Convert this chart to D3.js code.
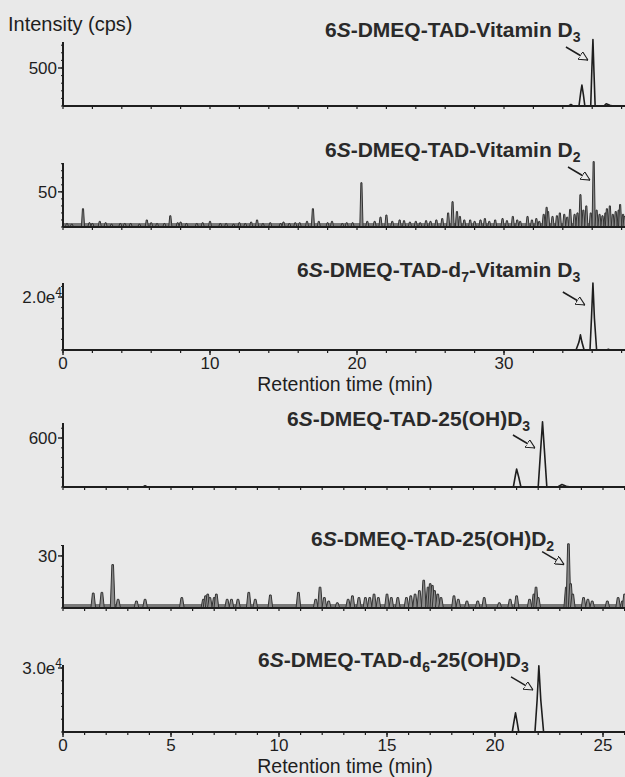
<!DOCTYPE html>
<html>
<head>
<meta charset="utf-8">
<script src="https://cdn.jsdelivr.net/npm/d3@7"></script>
<style>
  body { margin: 0; background: #e9e9e9; }
  svg { display: block; font-family: "Liberation Sans", Arial, sans-serif; }
</style>
</head>
<body>
<div class="chart"></div>
<script>
'use strict';

// chromatogram traces, [retention time (min), intensity (cps)]
var vitD3Trace = [[0,0],[34.4,0],[34.55,20],[34.7,0],[35.1,0],[35.22,180],[35.3,275],[35.4,150],[35.5,0],
                  [35.9,0],[35.98,500],[36.05,875],[36.12,450],[36.2,0],[36.8,0],[36.95,30],[37.2,10],[37.4,0],[40,0]];
var d7VitD3Trace = [[0,0],[34.9,0],[35.1,3000],[35.2,5700],[35.3,3000],[35.45,0],[35.85,0],[35.95,12000],
                    [36.05,25300],[36.15,12000],[36.3,0],[37.0,0],[37.1,300],[37.2,0],[40,0]];
var ohD3Trace = [[0,0],[3.7,0],[3.8,15],[3.9,0],[20.85,0],[20.95,150],[21.0,220],[21.1,120],[21.2,0],
                 [22.0,0],[22.1,400],[22.2,800],[22.3,400],[22.4,0],[22.9,0],[23.1,30],[23.3,10],[23.5,0],[30,0]];
var d6OhD3Trace = [[0,0],[20.8,0],[20.88,5000],[20.95,9000],[21.02,5000],[21.1,0],[21.85,0],[21.95,15000],
                   [22.03,31000],[22.12,15000],[22.25,0],[30,0]];

// noisy traces as spikes, [retention time (min), intensity (cps)]
var vitD2Spikes = [[0.27,5],[0.6,4],[1.36,26],[1.8,6],[2.0,5],[2.5,8],[2.9,6],[3.3,4],[3.9,5],[4.2,5],[4.6,5],
                   [5.2,4],[5.7,10],[6.0,6],[6.4,5],[6.9,5],[7.3,16],[7.8,6],[8.0,7],[8.4,5],[9.1,5],[9.5,6],
                   [10.0,8],[10.7,5],[11.1,5],[11.6,4],[12.0,6],[12.4,5],[12.8,7],[13.2,10],[13.6,5],[14.1,6],
                   [14.8,5],[15.0,7],[15.4,5],[15.8,6],[16.1,6],[16.6,8],[17.0,26],[17.4,8],[18.0,6],[18.3,8],
                   [19.0,5],[19.3,6],[19.7,6],[20.3,63],[20.7,8],[21.2,8],[21.6,14],[22.0,17],[22.4,8],[22.9,10],
                   [23.2,9],[23.6,7],[24.0,8],[24.3,6],[24.7,9],[25.0,8],[25.4,10],[25.8,12],[26.2,20],[26.5,36],
                   [26.8,22],[27.0,15],[27.3,10],[27.7,10],[28.0,8],[28.4,10],[28.7,12],[29.0,8],[29.4,10],
                   [29.9,12],[30.2,9],[30.6,15],[30.9,10],[31.1,8],[31.6,15],[31.9,10],[32.2,12],[32.4,8],
                   [32.7,18],[32.9,28],[33.0,22],[33.3,15],[33.6,16],[33.8,20],[34.1,18],[34.3,14],[34.5,25],
                   [34.8,18],[35.0,20],[35.2,46],[35.4,24],[35.6,30],[35.9,20],[36.1,93],[36.3,24],[36.5,18],
                   [36.7,16],[36.9,20],[37.0,26],[37.2,30],[37.4,18],[37.6,22],[37.8,24],[37.9,32],[38.1,18],[38.2,15]];
var ohD2Spikes = [[1.4,8.6],[1.8,9],[2.3,25],[2.55,5],[3.4,4],[3.8,5],[5.5,6],[6.5,5],[6.6,7],[6.7,8],[6.8,6],
                  [7.0,6],[7.1,8],[7.6,5],[7.8,5],[8.1,5],[8.6,9],[8.9,5],[9.6,7.5],[10.9,9],[11.7,5],[11.9,12],
                  [12.1,6],[12.3,4],[12.7,3],[13.2,5],[13.4,7],[13.7,6],[14.0,6],[14.2,6],[14.4,8],[14.6,6],
                  [15.0,8],[15.2,6],[15.5,6],[15.9,6],[16.1,7],[16.3,8],[16.5,10],[16.7,16],[16.9,12],[17.0,14],
                  [17.1,13],[17.2,10],[17.35,8],[17.5,6],[18.1,7],[18.3,5],[18.7,4],[19.2,4],[19.5,6],[20.2,3],
                  [20.7,5],[21.0,7],[21.6,5],[21.8,8],[21.9,12],[22.0,6],[23.3,12],[23.4,37],[23.5,14],[23.6,8],
                  [24.1,6],[24.3,5],[24.5,4],[25.2,4],[25.7,6],[25.9,4],[26.0,8]];

// panel labels and axis ticks
var panelNames = [
  ["6", "S", "-DMEQ-TAD-Vitamin D", "3"],
  ["6", "S", "-DMEQ-TAD-Vitamin D", "2"],
  ["6", "S", "-DMEQ-TAD-d", "7", "-Vitamin D", "3"],
  ["6", "S", "-DMEQ-TAD-25(OH)D", "3"],
  ["6", "S", "-DMEQ-TAD-25(OH)D", "2"],
  ["6", "S", "-DMEQ-TAD-d", "6", "-25(OH)D", "3"]
];
var yTickValues = [500, 50, 20000, 600, 30, 30000];
var yTickLabels = [["500"], ["50"], ["2.0e", "4"], ["600"], ["30"], ["3.0e", "4"]];
var yMax = [842, 91, 25300, 784, 36.3, 31400];
var topTimeTicks = [0, 10, 20, 30];
var bottomTimeTicks = [0, 5, 10, 15, 20, 25];
// arrow tips, [time, intensity]
var arrowTips = [[35.71,605],[35.85,66.8],[35.5,17000],[21.85,478],[23.2,25],[21.76,19700]];

var width = 625, height = 777;
var ink = "#1e1e1e";

var svg = d3.select(".chart").append("svg")
  .attr("width", width).attr("height", height);

svg.append("rect").attr("width", width).attr("height", height).attr("fill", "#e9e9e9");

var defs = svg.append("defs");
defs.append("marker")
  .attr("id", "head").attr("viewBox", "0 0 10 10")
  .attr("refX", 10).attr("refY", 5)
  .attr("markerWidth", 9).attr("markerHeight", 9)
  .attr("markerUnits", "userSpaceOnUse")
  .attr("orient", "auto")
  .append("path").attr("d", "M0,0 L10,5 L0,10 z")
  .attr("fill", "#e9e9e9").attr("stroke", ink).attr("stroke-width", 1.2);

var xTop = d3.scaleLinear().domain([0, 40]).range([63, 651]);
var xBottom = d3.scaleLinear().domain([0, 30]).range([63, 711]);

// layout: axis top and baseline for each panel, label start and baseline
var panels = [
  {top: 42,  base: 106, x: xTop,    trace: vitD3Trace,   lx: 325, ly: 37},
  {top: 163, base: 227, x: xTop,    spikes: vitD2Spikes, lx: 325, ly: 157},
  {top: 283, base: 350, x: xTop,    trace: d7VitD3Trace, lx: 297, ly: 277, labels: topTimeTicks},
  {top: 423, base: 487, x: xBottom, trace: ohD3Trace,    lx: 287, ly: 426},
  {top: 545, base: 608, x: xBottom, spikes: ohD2Spikes,  lx: 311, ly: 546},
  {top: 665, base: 732, x: xBottom, trace: d6OhD3Trace,  lx: 258, ly: 667, labels: bottomTimeTicks}
];

panels.forEach(function(p, i){
  var x = p.x;
  var y = d3.scaleLinear().domain([0, yMax[i]]).range([p.base, p.top]);
  var g = svg.append("g");

  // minor ticks along the time axis
  var step = (x === xTop) ? 2 : 1;
  var minor = d3.range(0, x.domain()[1] + 0.01, step).filter(function(t){ return x(t) <= width; });
  g.selectAll("line.xt").data(minor).enter().append("line")
    .attr("x1", function(d){ return x(d); }).attr("x2", function(d){ return x(d); })
    .attr("y1", p.base).attr("y2", p.base + 3)
    .attr("stroke", ink).attr("stroke-width", 1.2);

  if (p.labels) {
    g.selectAll("line.xm").data(p.labels).enter().append("line")
      .attr("x1", function(d){ return x(d); }).attr("x2", function(d){ return x(d); })
      .attr("y1", p.base).attr("y2", p.base + 5)
      .attr("stroke", ink).attr("stroke-width", 1.4);
    g.selectAll("text.xl").data(p.labels).enter().append("text")
      .attr("x", function(d){ return x(d); })
      .attr("y", p.base + 19)
      .attr("text-anchor", "middle")
      .attr("font-size", 17).attr("fill", ink)
      .text(function(d){ return d; });
    g.append("text")
      .attr("x", 345).attr("y", p.base + 41)
      .attr("text-anchor", "middle")
      .attr("font-size", 19.5).attr("fill", ink)
      .text("Retention time (min)");
  }

  // trace
  if (p.trace) {
    var line = d3.line().x(function(d){ return x(d[0]); }).y(function(d){ return y(d[1]); });
    g.append("path").datum(p.trace)
      .attr("d", line)
      .attr("fill", "none").attr("stroke", ink)
      .attr("stroke-width", 1.6).attr("stroke-linejoin", "round");
  }
  if (p.spikes) {
    var hw = 0.11;
    var spikeLine = d3.line().x(function(d){ return x(d[0]); }).y(function(d){ return y(d[1]); });
    // grey noise band along the baseline
    g.append("line")
      .attr("x1", x(0)).attr("x2", width)
      .attr("y1", p.base - 2).attr("y2", p.base - 2)
      .attr("stroke", "#7a7a7a").attr("stroke-width", 4);
    g.selectAll("path.spike").data(p.spikes).enter().append("path")
      .attr("d", function(d){ return spikeLine([[d[0] - hw, 0], [d[0] - hw / 3, d[1]], [d[0] + hw / 3, d[1]], [d[0] + hw, 0]]); })
      .attr("fill", "#8a8a8a").attr("stroke", "#333").attr("stroke-width", 1);
  }

  // baseline / time axis
  g.append("line")
    .attr("x1", x(0)).attr("x2", width)
    .attr("y1", p.base).attr("y2", p.base)
    .attr("stroke", ink).attr("stroke-width", 2);

  // intensity axis
  g.append("line")
    .attr("x1", x(0)).attr("x2", x(0))
    .attr("y1", p.top).attr("y2", p.base)
    .attr("stroke", ink).attr("stroke-width", 2);
  var yMinor = d3.range(0, yMax[i], yTickValues[i] / 5);
  g.selectAll("line.ym").data(yMinor).enter().append("line")
    .attr("x1", x(0) - 2).attr("x2", x(0))
    .attr("y1", function(d){ return y(d); }).attr("y2", function(d){ return y(d); })
    .attr("stroke", ink).attr("stroke-width", 1);
  g.append("line")
    .attr("x1", x(0) - 5).attr("x2", x(0))
    .attr("y1", y(yTickValues[i])).attr("y2", y(yTickValues[i]))
    .attr("stroke", ink).attr("stroke-width", 1.4);
  var yl = g.append("text")
    .attr("x", x(0) - 6).attr("y", y(yTickValues[i]) + 6)
    .attr("text-anchor", "end")
    .attr("font-size", 17).attr("fill", ink);
  yl.append("tspan").text(yTickLabels[i][0]);
  if (yTickLabels[i][1]) {
    yl.attr("x", x(0) - 1);
    yl.append("tspan").attr("font-size", 12).attr("baseline-shift", "super").text(yTickLabels[i][1]);
  }

  // compound label
  var parts = panelNames[i];
  var label = g.append("text")
    .attr("x", p.lx).attr("y", p.ly)
    .attr("font-size", 21).attr("font-weight", "bold").attr("fill", "#2a2a2a");
  label.append("tspan").text(parts[0]);
  label.append("tspan").attr("font-style", "italic").text(parts[1]);
  for (var k = 2; k < parts.length; k += 2) {
    label.append("tspan").text(parts[k]);
    label.append("tspan").attr("font-size", 14).attr("baseline-shift", "-5").text(parts[k + 1]);
  }

  // arrow to the peak
  var tip = arrowTips[i];
  g.append("line")
    .attr("x1", x(tip[0]) - 22).attr("y1", y(tip[1]) - 13)
    .attr("x2", x(tip[0])).attr("y2", y(tip[1]))
    .attr("stroke", ink).attr("stroke-width", 1.5)
    .attr("marker-end", "url(#head)");
});

svg.append("text")
  .attr("x", 8).attr("y", 31)
  .attr("font-size", 20).attr("fill", ink)
  .text("Intensity (cps)");
</script>
</body>
</html>
